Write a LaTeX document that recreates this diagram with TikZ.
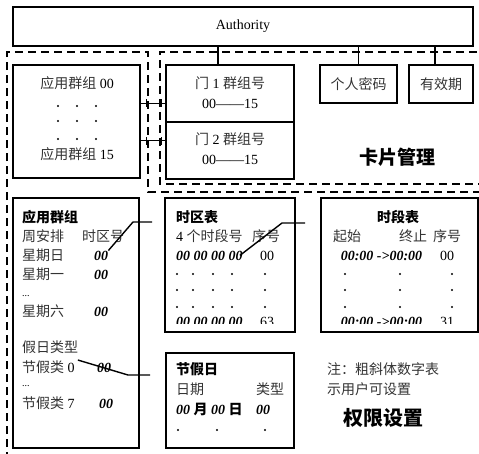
\documentclass[tikz,border=0pt]{standalone}
\usepackage{fontspec}
\setmainfont{Liberation Serif}
\newfontfamily\cjk{Noto Sans CJK SC}
\usepackage{tikz}
\usetikzlibrary{positioning}
\newcommand{\zh}[1]{{\cjk\color{black!80}#1}}
\newcommand{\zhb}[1]{{\cjk\bfseries #1}}
\newcommand{\bfit}[1]{{\bfseries\itshape #1}}
\tikzset{
  mainbox/.style={draw, line width=1.4pt, inner sep=0pt, outer sep=0pt, font=\fontsize{14}{16}\selectfont},
  region/.style={draw, line width=1.4pt, dash pattern=on 8pt off 5pt},
  link/.style={draw, line width=1.4pt},
  txt/.style={inner sep=0pt, anchor=base west, font=\fontsize{14}{16}\selectfont},
  ctxt/.style={inner sep=0pt, anchor=base, font=\fontsize{14}{16}\selectfont},
  small/.style={font=\fontsize{10}{11}\selectfont},
  biglbl/.style={inner sep=0pt, font=\fontsize{19}{22}\selectfont},
}

\begin{document}
\begin{tikzpicture}[x=1pt,y=-1pt]
  \useasboundingbox (0,0) rectangle (479,453);

  % dashed areas
  \draw[region] (7,460) -- (7,52) -- (148,52) -- (148,192) -- (490,192);
  \draw[region] (490,52) -- (160,52) -- (160,184) -- (490,184);

  \node[mainbox, minimum width=460pt, minimum height=39pt] (authbox) at (243,26.5) {Authority};

  \node[mainbox, minimum width=127pt, minimum height=113pt] (appbox) at (76.5,121.5) {};
  \node[ctxt] (app0) at (77,88) {\zh{应用群组} 00};
  \node[ctxt] (app15) at (77,159) {\zh{应用群组} 15};
  \foreach \dx in {58,77,96}
    \foreach \dy in {106,121,139}
      \fill (\dx,\dy) circle (1.1pt);

  \node[mainbox, minimum width=128pt, minimum height=57pt] (door1) at (230,93.5) {};
  \node[mainbox, minimum width=128pt, minimum height=57pt] (door2) [below=0pt of door1] {};
  \node[ctxt] (d1title) at (230,88) {\zh{门} 1 \zh{群组号}};
  \node[ctxt] (d1range) at (230,108) {00——15};
  \node[ctxt] (d2title) at (230,144) {\zh{门} 2 \zh{群组号}};
  \node[ctxt] (d2range) at (230,164) {00——15};

  \node[mainbox, minimum width=77pt, minimum height=38pt] (pinbox) at (358.5,84) {\zh{个人密码}};
  \node[mainbox, minimum width=64pt, minimum height=38pt] (validbox) [right=12pt of pinbox] {\zh{有效期}};

  \draw[link] ([xshift=-12pt]door1.north) -- ++(0,-19);
  \draw[link] (pinbox.north) -- ++(0,-19);
  \draw[link] ([xshift=-6pt]validbox.north) -- ++(0,-19);

  \draw[link] (d1range -| appbox.east) -- (d1range -| door1.west);
  \draw[link] ([yshift=-2pt]d2title.center -| appbox.east) -- ([yshift=-2pt]d2title.center -| door2.west);
  \foreach \tx in {146.5,161.5} {
    \draw[link] (\tx,99) -- (\tx,107);
    \draw[link] (\tx,137) -- (\tx,145);
  }

  \node[biglbl] (cardlbl) at (397,157) {\zhb{卡片管理}};

  \node[mainbox, minimum width=126pt, minimum height=250pt] (grpbox) at (76,323) {};
  \node[txt] (grptitle) at (22,222) {\zhb{应用群组}};
  \node[txt] (weekhd) at (22,241) {\zh{周安排}};
  \node[txt] (zonehd) at (82,241) {\zh{时区号}};
  \node[txt] (sunlbl) at (22,260) {\zh{星期日}};
  \node[txt] (sunval) at (94,260) {\bfit{00}};
  \node[txt] (monlbl) at (22,279) {\zh{星期一}};
  \node[txt] (monval) at (94,279) {\bfit{00}};
  \node[txt, small] (wkdots) at (22,296) {...};
  \node[txt] (satlbl) at (22,316) {\zh{星期六}};
  \node[txt] (satval) at (94,316) {\bfit{00}};
  \node[txt] (holhd) at (22,352) {\zh{假日类型}};
  \node[txt] (h0lbl) at (22,372) {\zh{节假类} 0};
  \node[txt] (h0val) at (97,372) {\bfit{00}};
  \node[txt, small] (hdots) at (22,386) {...};
  \node[txt] (h7lbl) at (22,408) {\zh{节假类} 7};
  \node[txt] (h7val) at (99,408) {\bfit{00}};

  \node[mainbox, minimum width=130pt, minimum height=134pt] (zonebox) at (230,265) {};
  \node[txt] (zonetitle) at (176,222) {\zhb{时区表}};
  \node[txt] (zonehd1) at (176,241) {4 \zh{个时段号}};
  \node[txt] (zonehd2) at (252,241) {\zh{序号}};
  \node[txt] (zonefirst) at (176,260) {\bfit{00 00 00 00}};
  \node[ctxt] (zoneidx0) at (267,260) {00};
  \foreach \dx in {177,193,213,232,265}
    \foreach \dy in {274,290,307}
      \fill (\dx,\dy) circle (1.1pt);

  \node[mainbox, minimum width=157pt, minimum height=134pt] (segbox) [right=26pt of zonebox] {};
  \node[ctxt] (segtitle) at (398,222) {\zhb{时段表}};
  \node[ctxt] (segstart) at (347,241) {\zh{起始}};
  \node[ctxt] (segend) at (413,241) {\zh{终止}};
  \node[ctxt] (segidx) at (447,241) {\zh{序号}};
  \node[ctxt] (segfirst) at (381.5,260) {\bfit{00:00 ->00:00}};
  \node[ctxt] (segidx0) at (447,260) {00};
  \foreach \dx in {345,400,452}
    \foreach \dy in {274,290,307}
      \fill (\dx,\dy) circle (1.1pt);

  \begin{scope}
    \clip (165,300) rectangle (479,323.5);
    \node[txt] (zonelast) at (176,326) {\bfit{00 00 00 00}};
    \node[ctxt] (zoneidx63) at (267,326) {63};
    \node[ctxt] (seglast) at (381.5,326) {\bfit{00:00 ->00:00}};
    \node[ctxt] (segidx31) at (447,326) {31};
  \end{scope}

  \node[mainbox, minimum width=128pt, minimum height=95pt] (holbox) at (230,400.5) {};
  \node[txt] (holtitle) at (176,374) {\zhb{节假日}};
  \node[txt] (holdate) at (176,394) {\zh{日期}};
  \node[txt] (holtype) at (256,394) {\zh{类型}};
  \node[txt] (holfirst) at (176,414) {\bfit{00} \zhb{月} \bfit{00} \zhb{日}};
  \node[ctxt] (holval) at (263,414) {\bfit{00}};
  \foreach \dx in {178,217,265}
    \fill (\dx,430) circle (1.1pt);

  \node[txt] (note1) at (327,374) {\zh{注：粗斜体数字表}};
  \node[txt] (note2) at (327,394) {\zh{示用户可设置}};
  \node[biglbl, font=\fontsize{20}{23}\selectfont] (permlbl) at (383,418) {\zhb{权限设置}};

  \coordinate (sunbend) at (133,222);
  \coordinate (sunend) at (152,222);
  \draw[link] (sunval.north east) -- (sunbend) -- (sunend);
  \coordinate (zonebend) at (282,223);
  \coordinate (zoneend) at (305,223);
  \draw[link] ([xshift=-3pt]zonefirst.east) -- (zonebend) -- (zoneend);
  \coordinate (h0bend) at (128,375);
  \coordinate (h0end) at (150,375);
  \draw[link] ([xshift=3pt]h0lbl.north east) -- (h0bend) -- (h0end);
\end{tikzpicture}
\end{document}
